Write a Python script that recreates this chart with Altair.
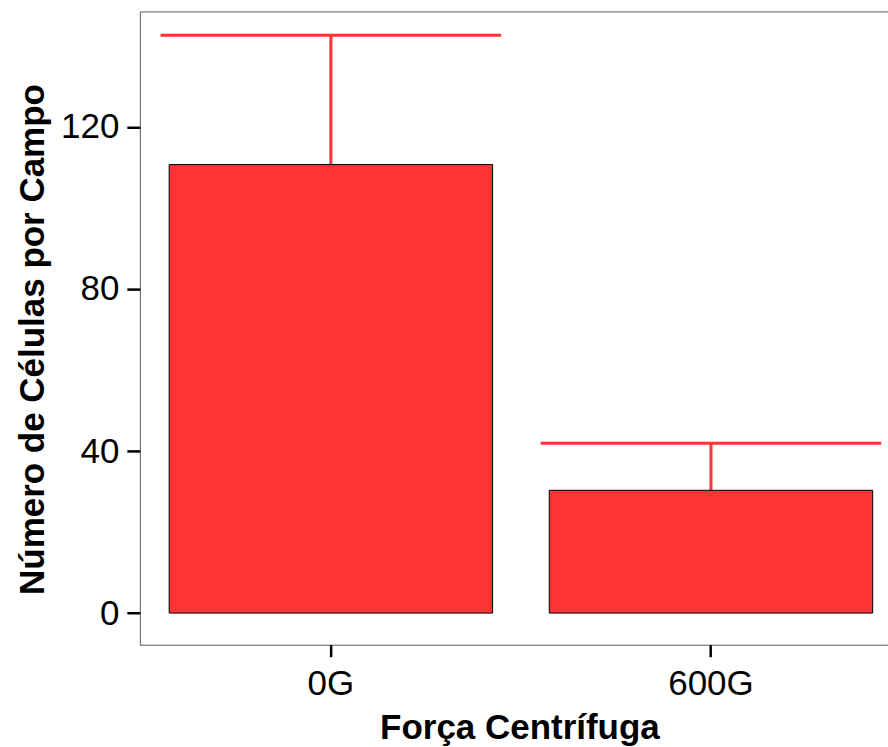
import altair as alt
import pandas as pd

categories = ["0G", "600G"]
means = [110.7, 30.3]
uppers = [142.6, 41.9]

df = pd.DataFrame({"forca": categories, "media": means, "sup": uppers})

RED = "#FF3333"
FONT = "Liberation Sans"

x_scale = alt.Scale(domain=categories, paddingInner=0.149, paddingOuter=0.0587, align=0.657)
y_scale = alt.Scale(domain=[-7.8, 148.5], nice=False, zero=False)

x_axis = alt.Axis(
    title="Força Centrífuga", labelAngle=0, labelAlign="center", labelBaseline="top",
    domain=False, tickColor="black", tickWidth=2.5,
    tickSize=12, labelFontSize=35, labelColor="black", labelFont=FONT, labelPadding=10,
    titleFont=FONT, titleFontSize=35, titleFontWeight="bold", titleColor="black",
    titleY=94, titleX=380, titleBaseline="alphabetic", grid=False,
)
y_axis = alt.Axis(
    title="Número de Células por Campo", values=[0, 40, 80, 120], domain=False,
    tickColor="black", tickWidth=2.5, tickSize=13, labelFontSize=35, labelColor="black",
    labelFont=FONT, labelPadding=8, titleFont=FONT, titleFontSize=35, titleFontWeight="bold",
    titleColor="black", titleX=-96, titleY=328, titleAngle=-90, titleBaseline="alphabetic",
    titleAlign="center", grid=False,
)

base = alt.Chart(df)

bars = base.mark_bar(color=RED, stroke="black", strokeWidth=1).encode(
    x=alt.X("forca:N", scale=x_scale, axis=x_axis, sort=categories),
    y=alt.Y("media:Q", scale=y_scale, axis=y_axis),
    y2=alt.Y2(datum=0),
)

whisker = base.mark_rule(color=RED, strokeWidth=3).encode(
    x=alt.X("forca:N", scale=x_scale, sort=categories),
    y=alt.Y("media:Q", scale=y_scale),
    y2="sup:Q",
)

caps = base.mark_tick(color=RED, thickness=3, size=341, orient="horizontal", opacity=1).encode(
    x=alt.X("forca:N", scale=x_scale, sort=categories),
    y=alt.Y("sup:Q", scale=y_scale),
)

chart = alt.layer(whisker, bars, caps).properties(
    width=749, height=634,
    autosize=alt.AutoSizeParams(type="none"),
    padding={"left": 140, "top": 11, "right": 0, "bottom": 102},
    background="white",
).configure_view(stroke="#595959", strokeWidth=1)

chart.save("out.html", embed_options={"renderer": "svg", "actions": False})
